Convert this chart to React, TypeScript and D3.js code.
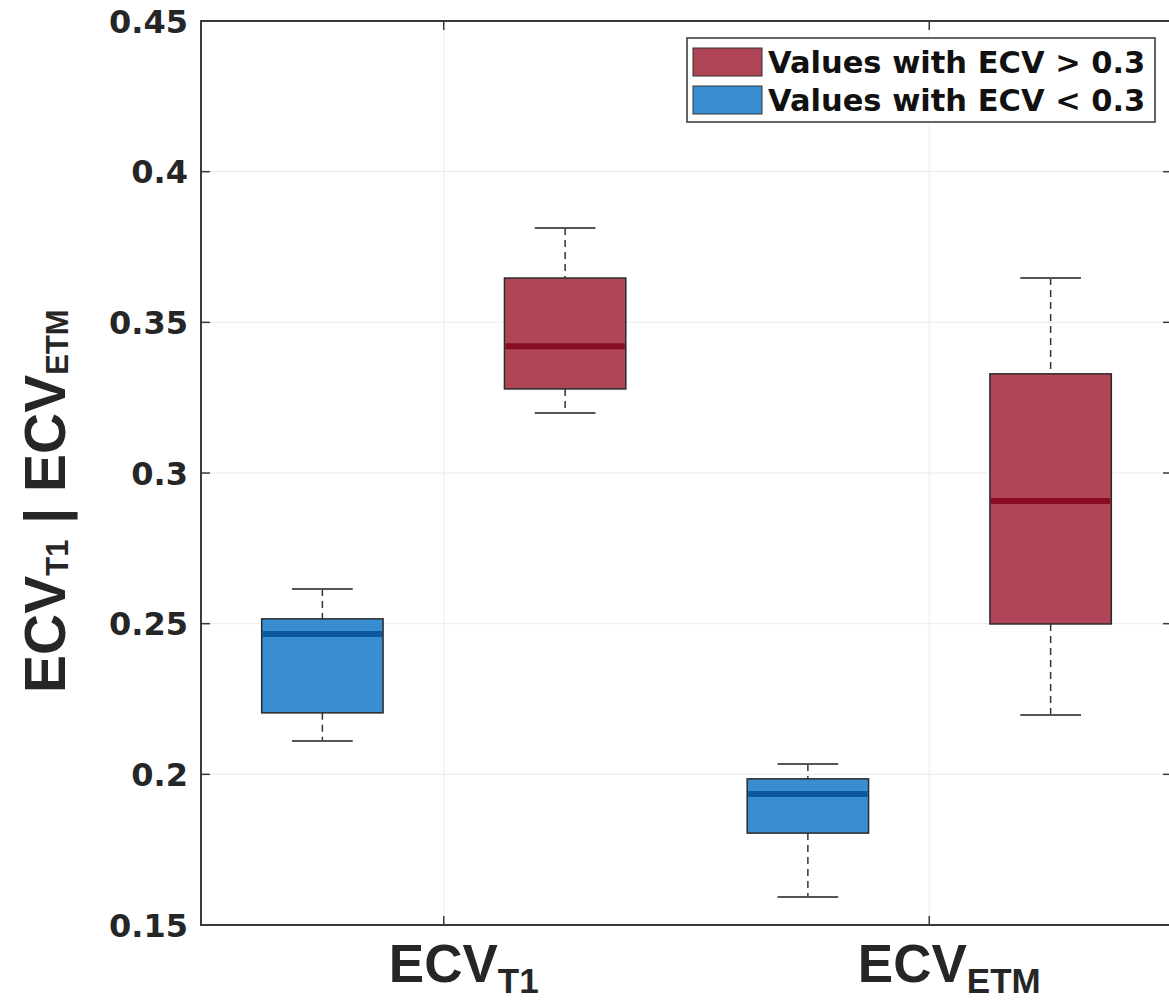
import React from 'react'
import * as d3 from 'd3'

// categories on the x axis (main text + subscript)
const categories = ['T1', 'ETM']

// y ticks
const yTicks = [0.15, 0.2, 0.25, 0.3, 0.35, 0.4, 0.45]
const yTickLabels = ['0.15', '0.2', '0.25', '0.3', '0.35', '0.4', '0.45']

// box stats per category: values with ECV < 0.3 (blue)
const lowMin = [0.2111, 0.1593]
const lowQ1 = [0.2204, 0.1805]
const lowMedian = [0.2466, 0.1935]
const lowQ3 = [0.2516, 0.1985]
const lowMax = [0.2615, 0.2034]

// values with ECV > 0.3 (red)
const highMin = [0.3199, 0.2197]
const highQ1 = [0.3279, 0.2499]
const highMedian = [0.3421, 0.2907]
const highQ3 = [0.3647, 0.3329]
const highMax = [0.3813, 0.3647]

const legendLabels = ['Values with ECV > 0.3', 'Values with ECV < 0.3']

const RED = '#b04557'
const RED_MED = '#8a0c22'
const BLUE = '#398ed1'
const BLUE_MED = '#0c5a9c'

const W = 1169
const H = 1003
const left = 201
const right = 1172
const top = 21
const bottom = 925

export default function App() {
  const x = d3.scaleLinear().domain([0.5, 2.5]).range([left, right])
  const y = d3.scaleLinear().domain([0.15, 0.45]).range([bottom, top])
  const unit = x(1) - x(0)
  const boxW = 0.25 * unit
  const capW = 0.125 * unit

  const series = [
    { name: 'low', offset: -0.25, fill: BLUE, med: BLUE_MED, min: lowMin, q1: lowQ1, median: lowMedian, q3: lowQ3, max: lowMax },
    { name: 'high', offset: 0.25, fill: RED, med: RED_MED, min: highMin, q1: highQ1, median: highMedian, q3: highQ3, max: highMax },
  ]

  const tickFont = '"DejaVu Sans", sans-serif'
  const labelFont = '"Liberation Sans", Arial, sans-serif'

  return (
    <div style={{ position: 'absolute', left: 0, top: 0 }}>
      <svg width={W} height={H} style={{ display: 'block', background: '#fff' }}>
        {/* grid */}
        {yTicks.map((t) => (
          <line key={'gy' + t} x1={left} x2={right} y1={y(t)} y2={y(t)} stroke="#ebebeb" strokeWidth={1} />
        ))}
        {categories.map((c, i) => (
          <line key={'gx' + c} x1={x(i + 1)} x2={x(i + 1)} y1={top} y2={bottom} stroke="#ebebeb" strokeWidth={1} />
        ))}

        {/* boxes */}
        {series.map((s) =>
          categories.map((c, i) => {
            const cx = x(i + 1 + s.offset)
            return (
              <g key={s.name + c}>
                <line x1={cx} x2={cx} y1={y(s.max[i])} y2={y(s.q3[i])} stroke="#333" strokeWidth={1.5} strokeDasharray="7,5" />
                <line x1={cx} x2={cx} y1={y(s.q1[i])} y2={y(s.min[i])} stroke="#333" strokeWidth={1.5} strokeDasharray="7,5" />
                <line x1={cx - capW / 2} x2={cx + capW / 2} y1={y(s.max[i])} y2={y(s.max[i])} stroke="#555" strokeWidth={2} />
                <line x1={cx - capW / 2} x2={cx + capW / 2} y1={y(s.min[i])} y2={y(s.min[i])} stroke="#555" strokeWidth={2} />
                <rect
                  x={cx - boxW / 2}
                  y={y(s.q3[i])}
                  width={boxW}
                  height={y(s.q1[i]) - y(s.q3[i])}
                  fill={s.fill}
                  stroke="#2a2a2a"
                  strokeWidth={1.5}
                />
                <line x1={cx - boxW / 2 + 1} x2={cx + boxW / 2 - 1} y1={y(s.median[i])} y2={y(s.median[i])} stroke={s.med} strokeWidth={6} />
              </g>
            )
          })
        )}

        {/* axes box */}
        <rect x={left} y={top} width={right - left} height={bottom - top} fill="none" stroke="#3a3a3a" strokeWidth={2} />
        {yTicks.map((t) => (
          <g key={'ty' + t}>
            <line x1={left} x2={left + 9} y1={y(t)} y2={y(t)} stroke="#3a3a3a" strokeWidth={1.5} />
            <line x1={right - 9} x2={right} y1={y(t)} y2={y(t)} stroke="#3a3a3a" strokeWidth={1.5} />
          </g>
        ))}
        {categories.map((c, i) => (
          <g key={'tx' + c}>
            <line x1={x(i + 1)} x2={x(i + 1)} y1={bottom} y2={bottom - 9} stroke="#3a3a3a" strokeWidth={1.5} />
            <line x1={x(i + 1)} x2={x(i + 1)} y1={top} y2={top + 9} stroke="#3a3a3a" strokeWidth={1.5} />
          </g>
        ))}

        {/* y tick labels */}
        {yTicks.map((t, i) => (
          <text
            key={'yl' + t}
            x={188}
            y={y(t)}
            dy="0.36em"
            textAnchor="end"
            fontFamily={tickFont}
            fontWeight="bold"
            fontSize={32}
            fill="#262626"
          >
            {yTickLabels[i]}
          </text>
        ))}

        {/* x tick labels */}
        {categories.map((c, i) => (
          <text
            key={'xl' + c}
            x={x(i + 1) + 20}
            y={982}
            textAnchor="middle"
            fontFamily={labelFont}
            fontWeight="bold"
            fontSize={53}
            fill="#262626"
          >
            ECV
            <tspan fontSize={35} dy={11}>
              {c}
            </tspan>
          </text>
        ))}

        {/* y axis label */}
        <text
          transform="translate(65,693) rotate(-90)"
          textAnchor="start"
          fontFamily={labelFont}
          fontWeight="bold"
          fontSize={57}
          fill="#262626"
        >
          ECV
          <tspan fontSize={31} dy={3}>
            {categories[0]}
          </tspan>
          <tspan dy={-3}> | ECV</tspan>
          <tspan fontSize={31} dy={3}>
            {categories[1]}
          </tspan>
        </text>

        {/* legend */}
        <rect x={687} y={38} width={468} height={84} fill="#fff" stroke="#333" strokeWidth={1.5} />
        {legendLabels.map((l, i) => (
          <g key={l}>
            <rect x={693} y={48 + i * 38} width={69} height={28} fill={i === 0 ? RED : BLUE} stroke="#333" strokeWidth={1} />
            <text x={768} y={73 + i * 38} fontFamily={tickFont} fontWeight="bold" fontSize={30.5} fill="#111">
              {l}
            </text>
          </g>
        ))}
      </svg>
    </div>
  )
}
